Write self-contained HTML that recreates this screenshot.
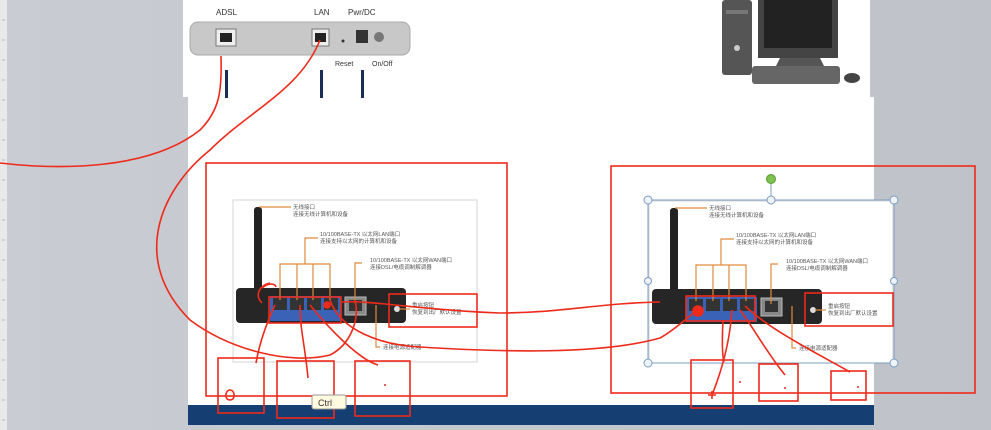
<!DOCTYPE html>
<html><head><meta charset="utf-8">
<style>
html,body{margin:0;padding:0;width:991px;height:430px;overflow:hidden;background:#c3c7cd;}
svg{display:block}
text{font-family:"Liberation Sans","Noto Sans CJK SC",sans-serif;}
</style></head><body>
<svg width="991" height="430" viewBox="0 0 991 430" xmlns="http://www.w3.org/2000/svg">
<defs>
<linearGradient id="bg" x1="0" x2="1"><stop offset="0" stop-color="#c9ccd2"/><stop offset="1" stop-color="#bfc3c9"/></linearGradient>
<g id="router">
  <rect x="233" y="200" width="244" height="162" fill="#fff" stroke="#d6d6d6"/>
  <rect x="254" y="207" width="8" height="86" rx="3" fill="#222"/>
  <rect x="236" y="288" width="170" height="35" rx="4" fill="#262626"/>
  <rect x="270" y="296" width="71" height="25" fill="#3a63b8"/>
  <rect x="273" y="298" width="14" height="12" fill="#333"/>
  <rect x="290" y="298" width="14" height="12" fill="#333"/>
  <rect x="307" y="298" width="14" height="12" fill="#333"/>
  <rect x="324" y="298" width="14" height="12" fill="#333"/>
  <rect x="345" y="297" width="21" height="18" fill="#888" stroke="#bbb"/>
  <rect x="349" y="300" width="13" height="11" fill="#333"/>
  <circle cx="397" cy="309" r="3" fill="#ddd"/>
  <g stroke="#e08a3c" stroke-width="1.2" fill="none">
    <path d="M259 207H291"/>
    <path d="M280 300V264H330V300M297 264V300M313 264V300M305 264V238H318"/>
    <path d="M355 303V263H362"/>
    <path d="M376 305V347H380"/>
    <path d="M399 309H410"/>
  </g>
  <g font-size="5.5" fill="#555">
    <text x="293" y="209">无线接口</text><text x="293" y="216">连接无线计算机和设备</text>
    <text x="320" y="236">10/100BASE-TX 以太网LAN端口</text><text x="320" y="243">连接支持以太网的计算机和设备</text>
    <text x="370" y="262">10/100BASE-TX 以太网WAN端口</text><text x="370" y="269">连接DSL/电缆调制解调器</text>
    <text x="412" y="307">重启按钮</text><text x="412" y="314">恢复到出厂默认设置</text>
    <text x="383" y="349">连接电源适配器</text>
  </g>
</g>
</defs>
<rect width="991" height="430" fill="url(#bg)"/>
<rect x="0" y="0" width="7" height="430" fill="#e9e9e9"/>
<g stroke="#888" stroke-width="0.6">
<path d="M2 20H5M2 40H5M2 60H5M2 80H5M2 100H5M2 120H5M2 140H5M2 160H5M2 180H5M2 200H5M2 220H5M2 240H5M2 260H5M2 280H5M2 300H5M2 320H5M2 340H5M2 360H5M2 380H5M2 400H5M2 420H5"/>
</g>
<!-- slide -->
<rect x="183" y="0" width="687" height="97" fill="#fff"/>
<rect x="188" y="97" width="686" height="310" fill="#fff"/>
<rect x="188" y="405" width="686" height="20" fill="#153e73"/>
<!-- modem -->
<text x="216" y="15" font-size="8" fill="#333">ADSL</text>
<text x="314" y="15" font-size="8" fill="#333">LAN</text>
<text x="348" y="15" font-size="8" fill="#333">Pwr/DC</text>
<rect x="190" y="22" width="220" height="33" rx="8" fill="#c8c8c8" stroke="#aaa"/>
<rect x="216" y="29" width="20" height="17" fill="#eee" stroke="#777"/>
<rect x="220" y="33" width="12" height="9" fill="#222"/>
<rect x="312" y="29" width="17" height="17" fill="#eee" stroke="#777"/>
<rect x="315" y="33" width="11" height="9" fill="#222"/>
<circle cx="343" cy="41" r="1.5" fill="#333"/>
<rect x="356" y="30" width="12" height="13" fill="#333"/>
<circle cx="379" cy="37" r="5" fill="#777"/>
<text x="335" y="66" font-size="7" fill="#333">Reset</text>
<text x="372" y="66" font-size="7" fill="#333">On/Off</text>
<g fill="#1b2f52"><rect x="225" y="70" width="3" height="28"/><rect x="320" y="70" width="3" height="28"/><rect x="361" y="70" width="3" height="28"/></g>
<!-- computer -->
<rect x="722" y="0" width="30" height="75" rx="3" fill="#555"/>
<rect x="726" y="10" width="22" height="4" fill="#777"/>
<circle cx="737" cy="48" r="3" fill="#ccc"/>
<rect x="758" y="0" width="80" height="58" fill="#444"/>
<rect x="764" y="0" width="68" height="48" fill="#222"/>
<path d="M780 58h40l4 8h-48z" fill="#555"/>
<rect x="752" y="66" width="88" height="18" rx="3" fill="#666"/>
<ellipse cx="852" cy="78" rx="8" ry="5" fill="#444"/>
<!-- routers -->
<use href="#router"/>
<use href="#router" transform="translate(416,1)"/>
<!-- selection handles right -->
<g stroke="#7a9cc0" fill="#eef3f9" stroke-width="1">
<rect x="648" y="200" width="246" height="163" fill="none"/>
<path d="M771 183V200" fill="none"/>
<circle cx="648" cy="200" r="4"/><circle cx="771" cy="200" r="4"/><circle cx="894" cy="200" r="4"/>
<circle cx="648" cy="281" r="3.5"/><circle cx="894" cy="281" r="3.5"/>
<circle cx="648" cy="363" r="4"/><circle cx="894" cy="363" r="4"/>
</g>
<circle cx="771" cy="179" r="4.5" fill="#7dc250" stroke="#5a9a35"/>
<!-- red annotations -->
<g stroke="#ee2a1a" stroke-width="1.6" fill="none">
<rect x="206" y="163" width="301" height="233"/>
<rect x="611" y="166" width="364" height="227"/>
<rect x="218" y="358" width="46" height="55"/>
<rect x="277" y="361" width="57" height="57"/>
<rect x="355" y="361" width="55" height="55"/>
<rect x="691" y="360" width="42" height="48"/>
<rect x="759" y="364" width="39" height="37"/>
<rect x="831" y="371" width="35" height="29"/>
<rect x="269" y="297" width="72" height="26"/>
<rect x="389" y="294" width="88" height="33"/>
<rect x="686" y="296" width="69" height="25"/>
<rect x="805" y="293" width="88" height="33"/>
<path d="M0 163C60 170 150 170 200 130C220 110 222 90 221 56"/>
<path d="M320 40C300 90 250 110 210 150C160 190 130 260 190 320C230 350 290 365 330 355C350 345 360 320 355 300"/>
<path d="M342 302C370 300 420 310 500 313C560 313 600 303 660 302"/>
<path d="M330 300C340 330 380 345 420 347C500 352 600 355 660 338C675 330 690 315 700 308"/>
<path d="M275 305C268 320 260 340 256 363"/>
<path d="M300 305C300 330 305 345 308 378"/>
<path d="M310 305C330 330 360 360 378 365"/>
<path d="M270 283C260 285 254 295 262 303M262 288C268 283 275 283 276 287"/>
<circle cx="327" cy="305" r="3" fill="#ee2a1a"/>
<circle cx="698" cy="311" r="5" fill="#ee2a1a"/>
<path d="M723 320C722 340 722 355 724 362"/>
<path d="M732 310C730 340 722 370 712 395"/>
<path d="M740 310C755 330 765 350 785 375"/>
<path d="M745 306C770 330 820 355 850 372"/>
<path d="M708 395h8M712 391v8"/>
<path d="M230 390c-5 0-6 10 0 10c6 0 5-10 0-10z"/>
</g>
<g fill="#ee2a1a"><circle cx="385" cy="385" r="1"/><circle cx="785" cy="388" r="1"/><circle cx="858" cy="387" r="1"/><circle cx="740" cy="382" r="1"/></g>
<rect x="312" y="395" width="34" height="14" rx="2" fill="#fffbe0" stroke="#999"/>
<text x="318" y="406" font-size="9" fill="#333" font-family="Liberation Mono,monospace">Ctrl</text>
</svg>
</body></html>
